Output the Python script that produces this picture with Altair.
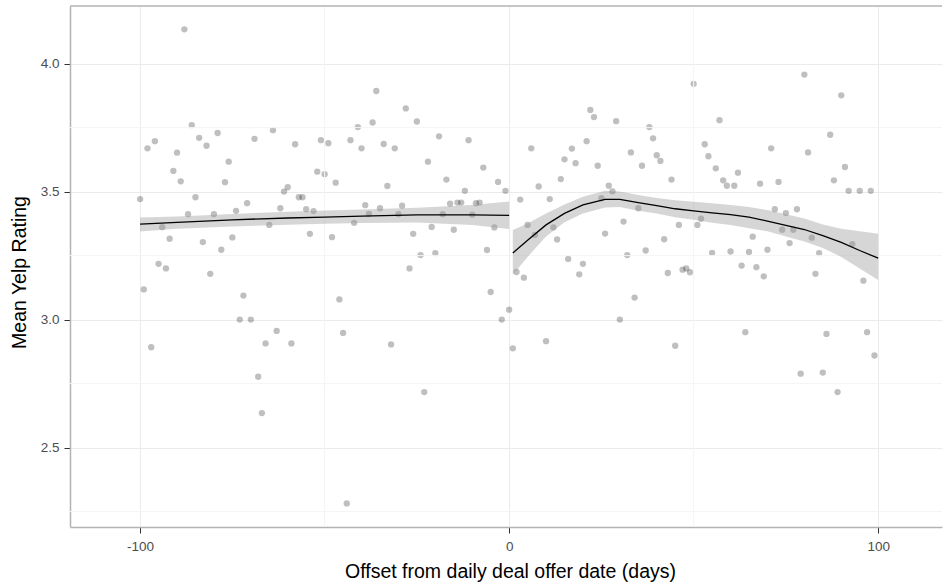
import altair as alt
import pandas as pd

# ---- data ----
left_days = list(range(-100, 1))
left_ratings = [
    3.471, 3.118, 3.669, 2.892, 3.697, 3.218, 3.361, 3.200, 3.316, 3.581,
    3.652, 3.540, 4.134, 3.412, 3.760, 3.478, 3.710, 3.303, 3.679, 3.179,
    3.412, 3.729, 3.273, 3.537, 3.617, 3.321, 3.425, 3.000, 3.094, 3.455,
    3.000, 3.706, 2.777, 2.635, 2.907, 3.370, 3.740, 2.956, 3.435, 3.500,
    3.517, 2.907, 3.685, 3.478, 3.478, 3.431, 3.335, 3.424, 3.578, 3.701,
    3.568, 3.689, 3.322, 3.535, 3.079, 2.948, 2.282, 3.701, 3.378, 3.752,
    3.669, 3.447, 3.413, 3.770, 3.893, 3.435, 3.686, 3.522, 2.903, 3.669,
    3.412, 3.445, 3.825, 3.200, 3.335, 3.774, 3.252, 2.717, 3.617, 3.362,
    3.260, 3.716, 3.412, 3.547, 3.453, 3.351, 3.457, 3.457, 3.503, 3.701,
    3.410, 3.455, 3.457, 3.594, 3.272, 3.108, 3.360, 3.538, 3.000, 3.503,
    3.039,
]
right_days = [
    1, 2, 3, 4, 5, 6, 7, 8, 10, 11, 12, 13, 14, 15, 16, 17, 18, 19, 20,
    21, 22, 23, 24, 25, 26, 27, 28, 29, 30, 31, 32, 33, 34, 35, 36, 37, 38, 39, 40,
    41, 42, 43, 44, 45, 46, 47, 48, 49, 50, 51, 52, 53, 54, 55, 56, 57, 58, 59, 60,
    61, 62, 63, 64, 65, 66, 67, 68, 69, 70, 71, 72, 73, 74, 75, 76, 77, 78, 79, 80,
    81, 82, 83, 84, 85, 86, 87, 88, 89, 90, 91, 92, 93, 95, 96, 97, 98, 99,
]
right_ratings = [
    2.888, 3.186, 3.469, 3.164, 3.370, 3.669, 3.331, 3.520, 2.916, 3.471, 3.360,
    3.313, 3.549, 3.626, 3.237, 3.668, 3.611, 3.177, 3.218,
    3.697, 3.819, 3.791, 3.601, 3.474, 3.336, 3.523, 3.501, 3.775, 3.000,
    3.383, 3.252, 3.653, 3.086, 3.435, 3.601, 3.270, 3.752, 3.708, 3.642,
    3.620, 3.314, 3.182, 3.547, 2.898, 3.370, 3.195, 3.200, 3.185, 3.921,
    3.370, 3.394, 3.685, 3.638, 3.261, 3.591, 3.779, 3.544, 3.523, 3.266,
    3.523, 3.574, 3.211, 2.951, 3.264, 3.324, 3.205, 3.531, 3.169, 3.273,
    3.669, 3.431, 3.538, 3.351, 3.416, 3.299, 3.351, 3.431, 2.789, 3.957,
    3.653, 3.320, 3.179, 3.260, 2.793, 2.944, 3.722, 3.544, 2.717, 3.876,
    3.596, 3.503, 3.295, 3.503, 3.152, 2.951, 3.503, 2.860,
]

# smoother (fit and confidence band)
smooth_left_x = [-100, -90, -75, -60, -50, -40, -25, -10, 0]
smooth_left_y = [3.373, 3.380, 3.390, 3.397, 3.400, 3.404, 3.409, 3.409, 3.407]
smooth_left_lo = [3.344, 3.355, 3.364, 3.371, 3.374, 3.377, 3.379, 3.370, 3.354]
smooth_left_hi = [3.399, 3.403, 3.413, 3.421, 3.426, 3.430, 3.437, 3.448, 3.461]

smooth_right_x = [1, 5, 10, 15, 20, 26, 30, 35, 40, 45, 50, 55, 60, 65, 70,
                  75, 80, 85, 90, 95, 100]
smooth_right_y = [3.260, 3.310, 3.370, 3.415, 3.448, 3.470, 3.470, 3.457, 3.445,
                  3.433, 3.425, 3.417, 3.410, 3.400, 3.385, 3.368, 3.352, 3.328,
                  3.302, 3.270, 3.240]
smooth_right_lo = [3.175, 3.245, 3.325, 3.380, 3.415, 3.438, 3.440, 3.425, 3.415,
                   3.400, 3.390, 3.378, 3.370, 3.357, 3.345, 3.325, 3.305, 3.280,
                   3.245, 3.200, 3.155]
smooth_right_hi = [3.350, 3.375, 3.415, 3.450, 3.480, 3.503, 3.500, 3.487, 3.475,
                   3.466, 3.460, 3.455, 3.448, 3.440, 3.428, 3.412, 3.395, 3.372,
                   3.355, 3.345, 3.335]

x_ticks = [-100, 0, 100]
y_ticks = [2.5, 3.0, 3.5, 4.0]
minor_x = [-50, 50]
minor_y = [2.25, 2.75, 3.25, 3.75]

# ---- tables ----
points = pd.DataFrame({
    "day": left_days + right_days,
    "rating": left_ratings + right_ratings,
})
smooth = pd.DataFrame({
    "seg": ["before"] * len(smooth_left_x) + ["after"] * len(smooth_right_x),
    "day": smooth_left_x + smooth_right_x,
    "fit": smooth_left_y + smooth_right_y,
    "lo": smooth_left_lo + smooth_right_lo,
    "hi": smooth_left_hi + smooth_right_hi,
})
minor_x_df = pd.DataFrame({"day": minor_x})
minor_y_df = pd.DataFrame({"rating": minor_y})

W, H = 872, 521
XDOM = [-119, 117.3]
YDOM = [2.19, 4.225]
FONT = "Liberation Sans"
BORDER = "#b3b3b3"

xscale = alt.Scale(domain=XDOM, nice=False, zero=False)
yscale = alt.Scale(domain=YDOM, nice=False, zero=False)

x_axis = alt.Axis(
    values=x_ticks, labelExpr="'' + datum.value", grid=True,
    title="Offset from daily deal offer date (days)",
    titleX=440, titleY=44, titleBaseline="middle", titleAlign="center",
)
y_axis = alt.Axis(
    values=y_ticks, format=".1f", grid=True,
    title="Mean Yelp Rating",
    titleX=-51, titleY=266, titleAngle=270, titleBaseline="middle", titleAlign="center",
)

X = alt.X("day:Q", scale=xscale, axis=x_axis)
Y = alt.Y("rating:Q", scale=yscale, axis=y_axis)

pts = alt.Chart(points).mark_circle(size=40, color="black", opacity=0.25).encode(
    x=X, y=Y,
)

minor_v = alt.Chart(minor_x_df).mark_rule(color="#f4f4f4", strokeWidth=1).encode(x=X)
minor_h = alt.Chart(minor_y_df).mark_rule(color="#f4f4f4", strokeWidth=1).encode(y=Y)

band = alt.Chart(smooth).mark_area(color="#999999", opacity=0.4).encode(
    x=X,
    y=alt.Y("lo:Q", scale=yscale, axis=y_axis),
    y2="hi:Q",
    detail="seg:N",
)

line = alt.Chart(smooth).mark_line(color="black", strokeWidth=1.3).encode(
    x=X,
    y=alt.Y("fit:Q", scale=yscale, axis=y_axis),
    detail="seg:N",
)

top_border = alt.Chart(pd.DataFrame({"a": [0]})).mark_rule(
    color=BORDER, strokeWidth=1.5
).encode(x=alt.value(0), x2=alt.value(W), y=alt.value(0))

chart = alt.layer(pts, minor_v, minor_h, band, line, top_border).properties(
    width=W, height=H,
    autosize=alt.AutoSizeParams(type="none"),
    padding={"left": 70, "top": 6, "right": 1, "bottom": 59},
    background="white",
).configure_view(
    stroke=None
).configure_axis(
    labelFont=FONT, labelFontSize=13.5, labelColor="#4d4d4d",
    titleFont=FONT, titleFontSize=19.5, titleFontWeight="normal", titleColor="black",
    tickColor="#333333", tickSize=6, tickWidth=1,
    domainColor=BORDER, domainWidth=1.5,
    gridColor="#ebebeb", gridWidth=1,
).configure_axisX(
    labelPadding=6,
).configure_axisY(
    labelPadding=5,
)

chart.save("out.html", embed_options={"renderer": "svg", "actions": False})
